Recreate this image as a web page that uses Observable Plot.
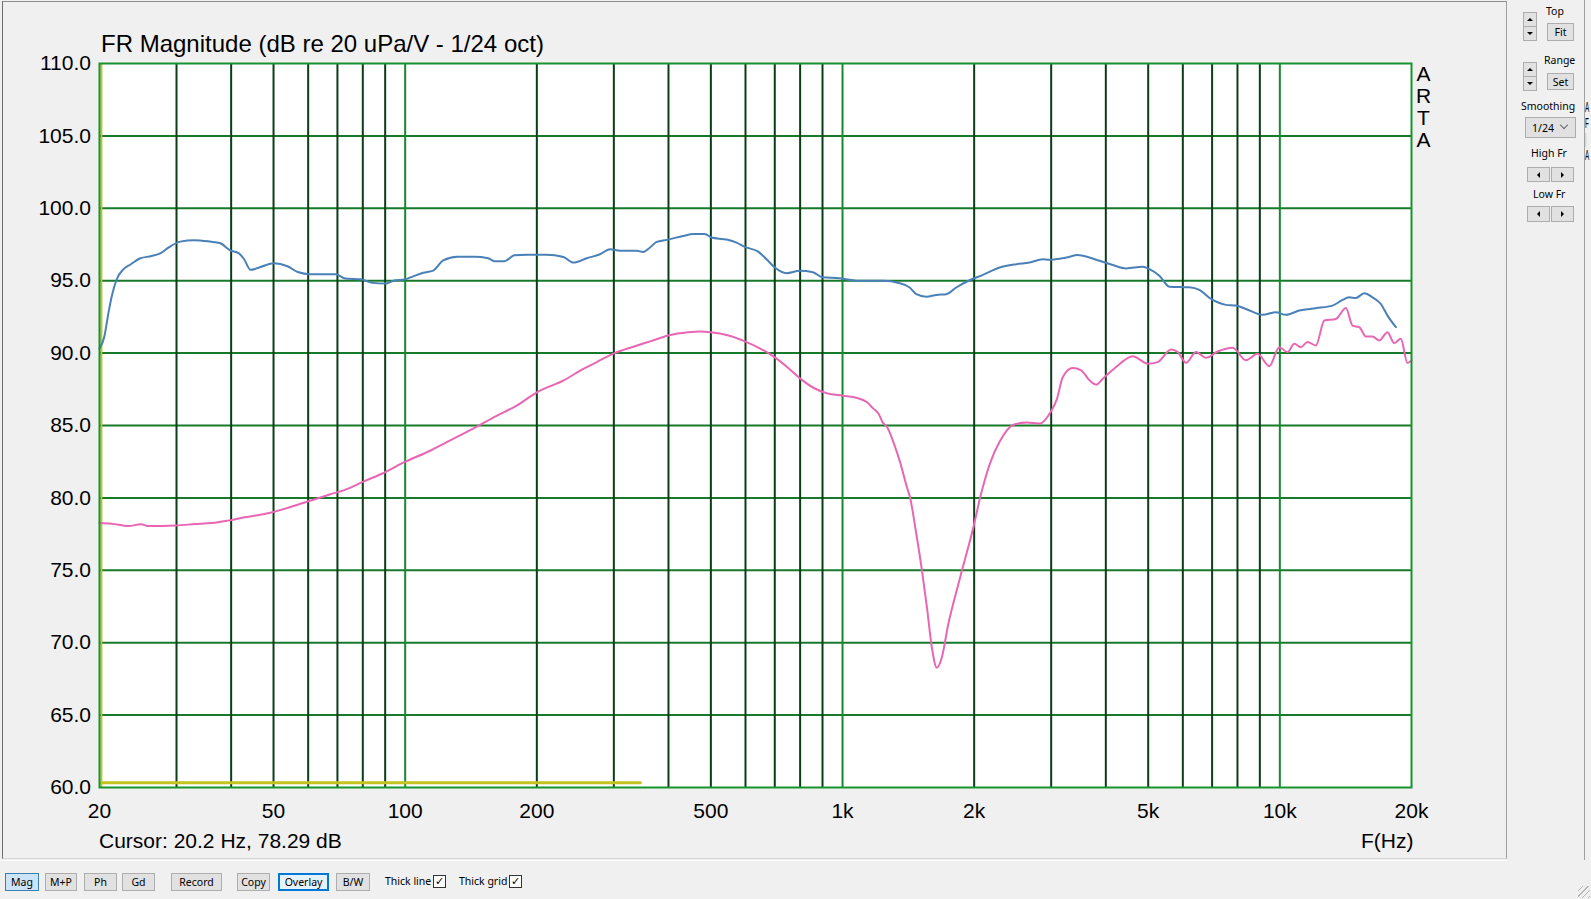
<!DOCTYPE html>
<html>
<head>
<meta charset="utf-8">
<script src="https://cdn.jsdelivr.net/npm/d3@7"></script>
<script src="https://cdn.jsdelivr.net/npm/@observablehq/plot@0.6"></script>
<style>
html,body{margin:0;padding:0;background:#f0f0f0;width:1591px;height:899px;overflow:hidden;}
#wrap{position:relative;width:1591px;height:899px;font-family:"Liberation Sans",Arial,sans-serif;color:#000;}
#chart{position:absolute;left:0;top:0;}
.abs{position:absolute;white-space:nowrap;}
.ui{font-family:"Noto Sans","DejaVu Sans",sans-serif;font-size:10.5px;color:#000;}
.btn{position:absolute;box-sizing:border-box;background:#e1e1e1;border:1px solid #adadad;display:flex;align-items:center;justify-content:center;font-family:"Noto Sans","DejaVu Sans",sans-serif;font-size:10.5px;color:#000;}
.tri-up{width:0;height:0;border-left:3px solid transparent;border-right:3px solid transparent;border-bottom:3px solid #000;}
.tri-dn{width:0;height:0;border-left:3px solid transparent;border-right:3px solid transparent;border-top:3px solid #000;}
.tri-l{width:0;height:0;border-top:3px solid transparent;border-bottom:3px solid transparent;border-right:3px solid #000;}
.tri-r{width:0;height:0;border-top:3px solid transparent;border-bottom:3px solid transparent;border-left:3px solid #000;}
.chk{position:absolute;box-sizing:border-box;width:13px;height:13px;background:#fff;border:1px solid #333;font-size:11px;line-height:11px;text-align:center;font-family:"DejaVu Sans",sans-serif;}
</style>
</head>
<body>
<div id="wrap">
  <div id="chart"></div>
</div>
<script>
// ---- data ----
const blueFreq = [20,20.5,21.0,21.4,21.9,22.7,23.5,24.8,26.3,27.6,28.8,30.6,32.9,35.8,37.7,39.8,41.6,42.8,44.3,46.7,50.1,53.8,56.8,60.6,69.3,73.0,79.1,84.2,90.2,94.0,100,104.3,109.9,115.9,122.2,131.6,143.9,154.8,159.9,168.7,177.6,190.2,210,230,242.4,260,278.9,294,309.9,338.3,350.3,362.9,375.8,396.2,432.3,455.6,484.4,501.6,543,572.3,597.9,641.4,670.2,700.2,744.6,798.3,856,894.7,985,1094,1237,1351,1424,1475,1555,1639,1727,1820,1952,2094,2286,2496,2677,2871,2973,3247,3451,3544,3868,4150,4452,4860,5033,5304,5589,6209,6546,6960,7531,7937,8365,9133,9799,10330,11075,12090,13195,13910,14400,14920,15590,16290,17020,17630,18420];
const blueDb = [90.3,91.1,92.9,94.1,95.1,95.8,96.1,96.55,96.7,96.9,97.3,97.7,97.8,97.7,97.6,97.1,96.9,96.5,95.75,95.95,96.2,96.0,95.6,95.45,95.45,95.15,95.1,94.85,94.8,95.0,95.1,95.3,95.55,95.7,96.4,96.65,96.65,96.55,96.35,96.35,96.75,96.8,96.8,96.64,96.25,96.55,96.83,97.17,97.06,97.06,96.99,97.29,97.68,97.82,98.09,98.23,98.23,97.98,97.84,97.63,97.33,97.01,96.48,95.91,95.52,95.68,95.59,95.26,95.17,94.99,94.99,94.83,94.53,94.07,93.89,94.02,94.07,94.53,95.03,95.4,95.91,96.14,96.25,96.48,96.45,96.6,96.77,96.72,96.38,96.08,95.85,95.96,95.8,95.34,94.59,94.54,94.36,93.74,93.33,93.28,93.05,92.64,92.82,92.64,92.94,93.1,93.28,93.67,93.85,93.81,94.13,93.85,93.39,92.59,91.79];

const pinkFreq = [20,21.3,23.3,24.9,25.8,29.9,33.1,36.1,39.3,43.0,48.9,54.4,60.1,67.2,74.8,80.0,88.5,100.1,113.7,123.9,145.5,161.8,179.9,200,229.8,255.5,274.2,301,334,365,401,443,474,500,546,596,650,699,748,802,860,923,1000,1080,1138,1173,1210,1236,1264,1309,1356,1405,1428,1467,1520,1560,1601,1643,1686,1745,1857,2000,2064,2177,2293,2460,2640,2830,3000,3090,3190,3362,3513,3670,3802,3937,4222,4609,4989,5257,5640,5843,6103,6433,6782,7210,7802,8365,8895,9458,9970,10410,10790,11170,11570,12090,12640,13430,14160,14660,15190,15730,16290,16870,17630,18250,18910,19580,20000];
const pinkDb = [78.26,78.22,78.06,78.18,78.06,78.1,78.19,78.26,78.43,78.66,78.96,79.35,79.77,80.23,80.69,81.11,81.67,82.5,83.24,83.82,84.91,85.67,86.37,87.29,88.1,88.91,89.38,90.0,90.46,90.83,91.23,91.44,91.5,91.44,91.23,90.83,90.3,89.72,89.03,88.22,87.59,87.22,87.06,86.9,86.6,86.2,85.8,85.2,84.9,83.8,82.4,80.7,80.0,77.95,74.95,72.42,69.65,68.27,68.96,71.27,74.49,78.2,80.02,82.44,83.94,85.05,85.21,85.14,86.0,86.8,88.35,88.97,88.81,88.12,87.82,88.23,89.04,89.79,89.27,89.38,90.25,90.07,89.33,90.07,89.68,90.11,90.37,89.5,89.95,89.1,90.41,90.07,90.64,90.41,90.76,90.53,92.25,92.36,93.12,91.9,91.79,91.15,91.15,90.87,91.44,90.69,90.99,89.31,89.5];

const yellowFreq = [20.2, 345];
const yellowDb = [60.32, 60.32];
const cursorFreq = 20.2;

const hGridDb = [65,70,75,80,85,90,95,100,105];
const minorGridHz = [30,40,50,60,70,80,90,200,300,400,500,600,700,800,900,2000,3000,4000,5000,6000,7000,8000,9000];
const decadeGridHz = [100,1000,10000];
const yTickDb = [60,65,70,75,80,85,90,95,100,105,110];
const xTickHz = [20,50,100,200,500,1000,2000,5000,10000,20000];
const xTickText = ["20","50","100","200","500","1k","2k","5k","10k","20k"];

const toRows = (fs, ds) => fs.map((f, i) => ({f, db: ds[i]}));
const blueRows = toRows(blueFreq, blueDb);
const pinkRows = toRows(pinkFreq, pinkDb);
const yellowRows = toRows(yellowFreq, yellowDb);

const FONT = "'Liberation Sans', Arial, sans-serif";

const chart = Plot.plot({
  width: 1591,
  height: 899,
  marginLeft: 99,
  marginRight: 180,
  marginTop: 63,
  marginBottom: 112,
  x: {type: "log", domain: [20, 20000]},
  y: {domain: [60, 110]},
  style: {background: "transparent", fontFamily: FONT, fontSize: "21px", color: "#000", overflow: "visible"},
  marks: [
    Plot.frame({fill: "#ffffff", stroke: null}),
    Plot.ruleY(hGridDb, {stroke: "#167a2a", strokeWidth: 2}),
    Plot.ruleX(minorGridHz, {stroke: "#0b3d17", strokeWidth: 2}),
    Plot.ruleX(decadeGridHz, {stroke: "#158a30", strokeWidth: 2}),
    Plot.line(yellowRows, {x: "f", y: "db", stroke: "#c3c21f", strokeWidth: 3}),
    Plot.ruleX([cursorFreq], {stroke: "#c3c21f", strokeWidth: 2}),
    Plot.line(pinkRows, {x: "f", y: "db", stroke: "#e866b4", strokeWidth: 2, curve: "monotone-x"}),
    Plot.line(blueRows, {x: "f", y: "db", stroke: "#4a80b8", strokeWidth: 2, curve: "monotone-x"}),
    Plot.frame({stroke: "#17942f", strokeWidth: 2}),
    Plot.axisY(yTickDb, {tickSize: 0, tickPadding: 8.5, tickFormat: d => d.toFixed(1), label: null, fontSize: 21, fill: "#000"}),
    Plot.axisX(xTickHz, {tickSize: 0, tickPadding: 15.5, tickFormat: d => xTickText[xTickHz.indexOf(d)], label: null, fontSize: 21, fill: "#000"})
  ]
});
document.getElementById("chart").appendChild(chart);

// ---- window chrome / texts ----
const wrap = document.getElementById("wrap");
function add(html) { wrap.insertAdjacentHTML("beforeend", html); }

// chart panel border
add('<div class="abs" style="left:2px;top:1px;width:1505px;height:858px;box-sizing:border-box;border-left:1px solid #6e6e6e;border-top:1px solid #8c8c8c;border-right:1px solid #a0a0a0;border-bottom:1px solid #d6d6d6;"></div>');
add('<div class="abs" style="left:0;top:860px;width:1508px;height:1px;background:#ffffff;"></div>');
// right panel right line
add('<div class="abs" style="left:1584px;top:0;width:1px;height:860px;background:#a0a0a0;"></div>');

// title
add('<div class="abs" style="left:101px;top:30px;font-size:24px;line-height:28px;">FR Magnitude (dB re 20 uPa/V - 1/24 oct)</div>');
// ARTA
add('<div class="abs" style="left:1416px;top:63px;font-size:21px;line-height:22px;text-align:center;width:15px;">A<br>R<br>T<br>A</div>');
// cursor + F(Hz)
add('<div class="abs" style="left:99px;top:828px;font-size:21px;line-height:26px;">Cursor: 20.2 Hz, 78.29 dB</div>');
add('<div class="abs" style="left:1361px;top:828px;font-size:21px;line-height:26px;">F(Hz)</div>');

// right control panel
function spin(x, y) {
  add(`<div class="btn" style="left:${x}px;top:${y}px;width:14px;height:15px;"><div class="tri-up"></div></div>`);
  add(`<div class="btn" style="left:${x}px;top:${y+14}px;width:14px;height:15px;"><div class="tri-dn"></div></div>`);
}
spin(1523, 12);
add('<div class="abs ui" style="left:1546px;top:4px;">Top</div>');
add('<div class="btn" style="left:1547px;top:23px;width:27px;height:18px;">Fit</div>');
spin(1523, 62);
add('<div class="abs ui" style="left:1544px;top:53px;">Range</div>');
add('<div class="btn" style="left:1547px;top:73px;width:27px;height:17px;">Set</div>');
add('<div class="abs ui" style="left:1521px;top:99px;">Smoothing</div>');
add('<div class="btn" style="left:1525px;top:117px;width:51px;height:21px;justify-content:flex-start;padding-left:6px;">1/24<span style="position:absolute;right:8px;top:4px;width:5px;height:5px;border-right:1px solid #666;border-bottom:1px solid #666;transform:rotate(45deg);"></span></div>');
add('<div class="abs ui" style="left:1531px;top:146px;">High Fr</div>');
add('<div class="btn" style="left:1527px;top:167px;width:23px;height:15px;"><div class="tri-l"></div></div>');
add('<div class="btn" style="left:1551px;top:167px;width:23px;height:15px;"><div class="tri-r"></div></div>');
add('<div class="abs ui" style="left:1533px;top:187px;">Low Fr</div>');
add('<div class="btn" style="left:1527px;top:206px;width:23px;height:16px;"><div class="tri-l"></div></div>');
add('<div class="btn" style="left:1551px;top:206px;width:23px;height:16px;"><div class="tri-r"></div></div>');
// narrow letters at far right edge (squeezed so they fit inside the window)
add('<div class="abs" style="left:1585px;top:99px;font-size:14px;line-height:16px;transform:scaleX(0.45);transform-origin:0 0;font-family:\'Liberation Sans\',Arial,sans-serif;">A<br>F<br><span style="color:#c3c21f">|</span><br>A</div>');

// bottom buttons
function btn(x, w, label, extra) {
  add(`<div class="btn" style="left:${x}px;top:873px;width:${w}px;height:18px;${extra||''}">${label}</div>`);
}
btn(5, 34, "Mag", "background:#cce4f7;border-color:#3c7fb1;");
btn(45, 32, "M+P");
btn(84, 33, "Ph");
btn(122, 33, "Gd");
btn(171, 51, "Record");
btn(237, 33, "Copy");
btn(278, 51, "Overlay", "border:2px solid #0078d7;background:#e5f1fb;");
btn(336, 34, "B/W");
add('<div class="abs ui" style="left:385px;top:874px;">Thick line</div>');
add('<div class="chk" style="left:433px;top:875px;">✓</div>');
add('<div class="abs ui" style="left:459px;top:874px;">Thick grid</div>');
add('<div class="chk" style="left:509px;top:875px;">✓</div>');
// resize grip
add('<div class="abs" style="left:1578px;top:886px;width:12px;height:12px;background:repeating-linear-gradient(135deg,transparent 0 3px,#b5b5b5 3px 4px);"></div>');
</script>
</body>
</html>
